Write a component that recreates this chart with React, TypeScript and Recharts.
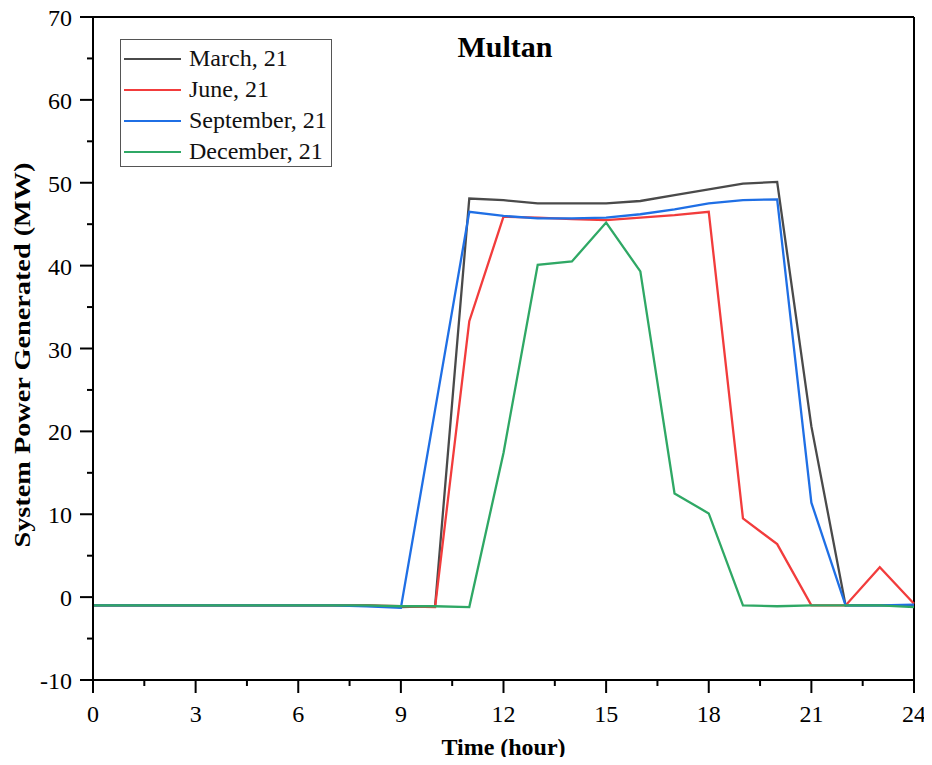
import React from 'react';
import { LineChart, Line, XAxis, YAxis, Legend, ReferenceLine, Label } from 'recharts';

const hours = [0, 1, 2, 3, 4, 5, 6, 7, 8, 9, 10, 11, 12, 13, 14, 15, 16, 17, 18, 19, 20, 21, 22, 23, 24];
const march = [-1, -1, -1, -1, -1, -1, -1, -1, -1, -1.2, -1.1, 48.1, 47.9, 47.5, 47.5, 47.5, 47.8, 48.5, 49.2, 49.9, 50.1, 20.6, -1, -1, -1];
const june = [-1, -1, -1, -1, -1, -1, -1, -1, -1, -1.1, -1.2, 33.3, 45.9, 45.8, 45.6, 45.5, 45.8, 46.1, 46.5, 9.5, 6.4, -1, -1, 3.6, -0.8];
const september = [-1, -1, -1, -1, -1, -1, -1, -1, -1.1, -1.3, 22.6, 46.5, 46.0, 45.7, 45.7, 45.8, 46.2, 46.8, 47.5, 47.9, 48.0, 11.4, -1, -1, -0.9];
const december = [-1, -1, -1, -1, -1, -1, -1, -1, -1, -1.1, -1.1, -1.2, 17.4, 40.1, 40.5, 45.2, 39.3, 12.5, 10.1, -1, -1.1, -1, -1, -1, -1.2];

const xTicks = [0, 1.5, 3, 4.5, 6, 7.5, 9, 10.5, 12, 13.5, 15, 16.5, 18, 19.5, 21, 22.5, 24];
const yTicks = [-10, -5, 0, 5, 10, 15, 20, 25, 30, 35, 40, 45, 50, 55, 60, 65, 70];

const seriesInfo = [
  { key: 'march', name: 'March, 21', color: '#4a4a4a' },
  { key: 'june', name: 'June, 21', color: '#f23c3c' },
  { key: 'september', name: 'September, 21', color: '#1f6fe5' },
  { key: 'december', name: 'December, 21', color: '#2fa865' },
];

const data = hours.map((h, i) => ({
  hour: h,
  march: march[i],
  june: june[i],
  september: september[i],
  december: december[i],
}));

const FONT = '"Liberation Serif", "Times New Roman", serif';

const XTick = (props: any) => {
  const { x, y, payload } = props;
  const major = payload.value % 3 === 0;
  return (
    <g>
      <line x1={x} y1={y} x2={x} y2={y + (major ? 13 : 6)} stroke="#000" strokeWidth={2} />
      {major && (
        <text x={x} y={y + 42} textAnchor="middle" fontSize={24} fontFamily={FONT} fill="#000">
          {payload.value}
        </text>
      )}
    </g>
  );
};

const YTick = (props: any) => {
  const { x, y, payload } = props;
  const major = payload.value % 10 === 0;
  return (
    <g>
      <line x1={x} y1={y} x2={x - (major ? 13 : 6)} y2={y} stroke="#000" strokeWidth={2} />
      {major && (
        <text x={x - 21} y={y + 9} textAnchor="end" fontSize={24} fontFamily={FONT} fill="#000">
          {payload.value}
        </text>
      )}
    </g>
  );
};

const renderLegend = () => (
  <div
    style={{
      border: '1.5px solid #555',
      width: 212,
      height: 128,
      padding: '3px 0 0 3px',
      boxSizing: 'border-box',
      fontFamily: FONT,
      fontSize: 24,
      background: '#fff',
    }}
  >
    {seriesInfo.map((s) => (
      <div key={s.key} style={{ display: 'flex', alignItems: 'center', height: 31 }}>
        <div style={{ width: 57, height: 2, background: s.color, marginRight: 8 }} />
        <span style={{ lineHeight: '31px', color: '#111' }}>{s.name}</span>
      </div>
    ))}
  </div>
);

const renderYLabel = () => (
  <text
    x={22}
    y={355}
    transform="rotate(-90, 22, 355)"
    textAnchor="middle"
    dy="0.35em"
    fontSize={24}
    fontWeight="bold"
    fontFamily={FONT}
    fill="#000"
    textLength={385}
    lengthAdjust="spacingAndGlyphs"
  >
    System Power Generated (MW)
  </text>
);

export default function App() {
  return (
    <div style={{ position: 'relative', width: 932, height: 765, margin: -8, background: '#fff' }}>
      <LineChart width={932} height={765} data={data} margin={{ top: 17, right: 18, left: 8, bottom: 8 }}>
        <XAxis
          dataKey="hour"
          type="number"
          domain={[0, 24]}
          ticks={xTicks}
          interval={0}
          tickSize={0}
          tickMargin={0}
          tickLine={false}
          tick={<XTick />}
          axisLine={{ stroke: '#000', strokeWidth: 2 }}
          height={77}
        >
          <Label
            value="Time (hour)"
            position="insideBottom"
            offset={2}
            style={{ fontFamily: FONT, fontSize: 24, fontWeight: 'bold', fill: '#000' }}
          />
        </XAxis>
        <YAxis
          type="number"
          domain={[-10, 70]}
          ticks={yTicks}
          interval={0}
          tickSize={0}
          tickMargin={0}
          tickLine={false}
          tick={<YTick />}
          axisLine={{ stroke: '#000', strokeWidth: 2 }}
          width={85}
        >
          <Label content={renderYLabel} />
        </YAxis>
        <ReferenceLine y={70} stroke="#000" strokeWidth={2} />
        <ReferenceLine x={24} stroke="#000" strokeWidth={2} />
        <Legend
          layout="vertical"
          align="center"
          verticalAlign="middle"
          content={renderLegend}
          wrapperStyle={{ left: 120, top: 39, width: 'auto', height: 'auto' }}
        />
        {seriesInfo.map((s) => (
          <Line
            key={s.key}
            type="linear"
            dataKey={s.key}
            name={s.name}
            stroke={s.color}
            strokeWidth={2.3}
            dot={false}
            isAnimationActive={false}
          />
        ))}
      </LineChart>
      <div
        style={{
          position: 'absolute',
          left: 0,
          top: 32,
          width: 1010,
          textAlign: 'center',
          fontFamily: FONT,
          fontSize: 30,
          fontWeight: 'bold',
          lineHeight: '30px',
        }}
      >
        Multan
      </div>
    </div>
  );
}
